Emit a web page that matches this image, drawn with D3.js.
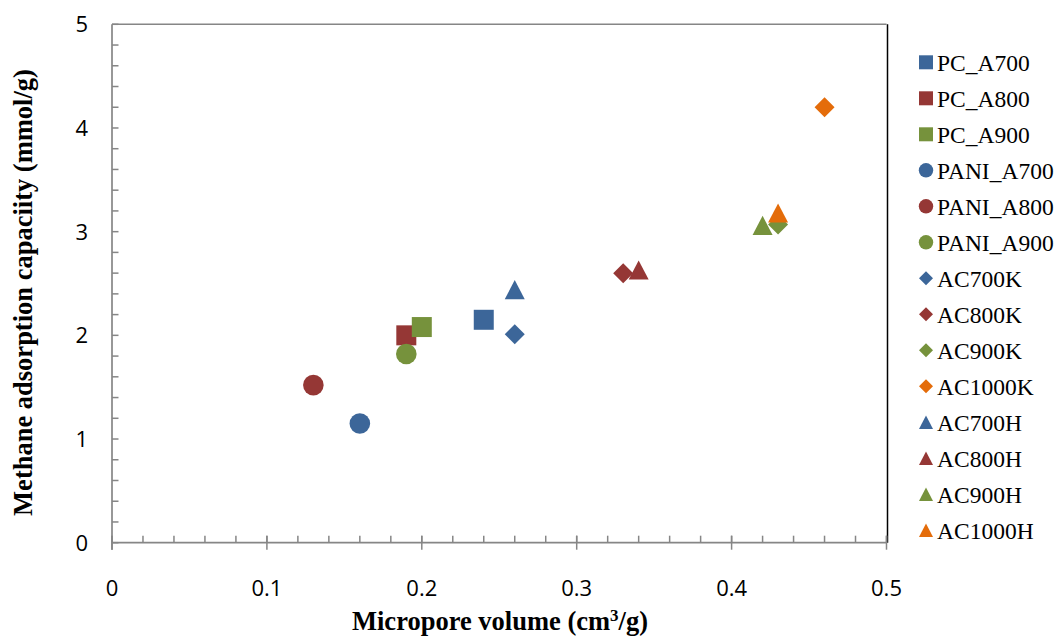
<!DOCTYPE html>
<html>
<head>
<meta charset="utf-8">
<script src="https://cdn.jsdelivr.net/npm/d3@7"></script>
<style>
  body { margin: 0; background: #fff; }
  .tick-label { font-family: "Open Sans", sans-serif; font-size: 22px; fill: #000; }
  .axis-title { font-family: "Liberation Serif", "Times New Roman", serif; font-weight: bold; font-size: 26.5px; fill: #000; }
  .legend-label { font-family: "Liberation Serif", "Times New Roman", serif; font-size: 23.5px; fill: #000; }
</style>
</head>
<body>
<div id="chart"></div>
<script>
// Series data
const seriesNames = ['PC_A700', 'PC_A800', 'PC_A900', 'PANI_A700', 'PANI_A800', 'PANI_A900',
  'AC700K', 'AC800K', 'AC900K', 'AC1000K', 'AC700H', 'AC800H', 'AC900H', 'AC1000H'];
const microporeVolume = [0.24, 0.19, 0.20, 0.16, 0.13, 0.19, 0.26, 0.33, 0.43, 0.46, 0.26, 0.34, 0.42, 0.43];
const methaneCapacity = [2.15, 2.00, 2.08, 1.15, 1.52, 1.82, 2.01, 2.60, 3.07, 4.20, 2.44, 2.63, 3.06, 3.18];
const seriesShape = ['square', 'square', 'square', 'circle', 'circle', 'circle',
  'diamond', 'diamond', 'diamond', 'diamond', 'triangle', 'triangle', 'triangle', 'triangle'];
const seriesColor = ['blue', 'red', 'green', 'blue', 'red', 'green',
  'blue', 'red', 'green', 'orange', 'blue', 'red', 'green', 'orange'];

const xTicks = [0, 0.1, 0.2, 0.3, 0.4, 0.5];
const yTicks = [0, 1, 2, 3, 4, 5];

const config = {
  width: 1059,
  height: 638,
  plot: {left: 112, right: 886.5, top: 24.3, bottom: 542.7},
  markerSize: 20,
  legendMarkerSize: 14,
  legend: {x: 926, y: 62.3, rowHeight: 36, textOffset: 11}
};

const colorScale = d3.scaleOrdinal()
    .domain(['blue', 'red', 'green', 'orange'])
    .range(['#3C6699', '#953735', '#76923C', '#E46C0A']);

const xScale = d3.scaleLinear()
    .domain([0, 0.5])
    .range([config.plot.left, config.plot.right]);

const yScale = d3.scaleLinear()
    .domain([0, 5])
    .range([config.plot.bottom, config.plot.top]);

// Marker path for a shape of a given width, centred on 0,0
function markerPath(shape, s) {
  const h = s / 2;
  if (shape === 'square') return `M${-h},${-h}h${s}v${s}h${-s}Z`;
  if (shape === 'circle') {
    const r = h * 1.03;
    return `M${-r},0a${r},${r} 0 1,0 ${2 * r},0a${r},${r} 0 1,0 ${-2 * r},0Z`;
  }
  if (shape === 'diamond') return `M0,${-h}L${h},0L0,${h}L${-h},0Z`;
  // triangle
  const th = s * 0.96 / 2;
  return `M0,${-th}L${h},${th}L${-h},${th}Z`;
}

const svg = d3.select('#chart').append('svg')
    .attr('width', config.width)
    .attr('height', config.height);

const axisColor = '#868686';

// Plot frame: top border grey, right border dark
svg.append('line')
    .attr('x1', config.plot.left).attr('x2', config.plot.right)
    .attr('y1', config.plot.top).attr('y2', config.plot.top)
    .attr('stroke', axisColor).attr('stroke-width', 1.5);
svg.append('line')
    .attr('x1', config.plot.right + 1).attr('x2', config.plot.right + 1)
    .attr('y1', config.plot.top).attr('y2', config.plot.bottom)
    .attr('stroke', '#000').attr('stroke-width', 1.5);

// Minor ticks (inside)
const xMinor = d3.range(0, 0.5001, 0.02);
const yMinor = d3.range(0, 5.001, 0.2);

svg.append('g').selectAll('line')
    .data(xMinor)
    .join('line')
    .attr('x1', d => xScale(d)).attr('x2', d => xScale(d))
    .attr('y1', config.plot.bottom).attr('y2', config.plot.bottom - 7)
    .attr('stroke', axisColor).attr('stroke-width', 1.5);

svg.append('g').selectAll('line')
    .data(yMinor)
    .join('line')
    .attr('x1', config.plot.left).attr('x2', config.plot.left + 6.5)
    .attr('y1', d => yScale(d)).attr('y2', d => yScale(d))
    .attr('stroke', axisColor).attr('stroke-width', 1.5);

// Major x ticks cross the axis
svg.append('g').selectAll('line')
    .data(xTicks)
    .join('line')
    .attr('x1', d => xScale(d)).attr('x2', d => xScale(d))
    .attr('y1', config.plot.bottom - 7).attr('y2', config.plot.bottom + 7)
    .attr('stroke', axisColor).attr('stroke-width', 1.5);

// Axis lines
svg.append('line')
    .attr('x1', config.plot.left).attr('x2', config.plot.right)
    .attr('y1', config.plot.bottom).attr('y2', config.plot.bottom)
    .attr('stroke', axisColor).attr('stroke-width', 1.7);
svg.append('line')
    .attr('x1', config.plot.left).attr('x2', config.plot.left)
    .attr('y1', config.plot.top).attr('y2', config.plot.bottom + 7)
    .attr('stroke', axisColor).attr('stroke-width', 1.7);

// Tick labels
svg.append('g').selectAll('text')
    .data(xTicks)
    .join('text')
    .attr('class', 'tick-label')
    .attr('x', d => xScale(d))
    .attr('y', 596)
    .attr('text-anchor', 'middle')
    .text(d => d === 0 ? '0' : d3.format('.1f')(d));

svg.append('g').selectAll('text')
    .data(yTicks)
    .join('text')
    .attr('class', 'tick-label')
    .attr('x', 88)
    .attr('y', d => yScale(d))
    .attr('dy', '0.36em')
    .attr('text-anchor', 'end')
    .text(d => d);

// Axis titles
const xTitle = svg.append('text')
    .attr('class', 'axis-title')
    .attr('x', 500)
    .attr('y', 630)
    .attr('text-anchor', 'middle');
xTitle.append('tspan').text('Micropore volume (cm');
xTitle.append('tspan').attr('baseline-shift', 'super').attr('font-size', '17px').text('3');
xTitle.append('tspan').text('/g)');

svg.append('text')
    .attr('class', 'axis-title')
    .attr('transform', 'translate(32,292.5) rotate(-90)')
    .attr('text-anchor', 'middle')
    .text('Methane adsorption capaciity (mmol/g)');

// Data markers
const points = seriesNames.map((name, i) => ({
  name: name,
  x: microporeVolume[i],
  y: methaneCapacity[i],
  shape: seriesShape[i],
  color: seriesColor[i]
}));

svg.append('g').selectAll('path')
    .data(points)
    .join('path')
    .attr('transform', d => `translate(${xScale(d.x)},${yScale(d.y)})`)
    .attr('d', d => markerPath(d.shape, config.markerSize))
    .attr('fill', d => colorScale(d.color));

// Legend
const legendG = svg.append('g').selectAll('g')
    .data(points)
    .join('g')
    .attr('transform', (d, i) => `translate(${config.legend.x},${config.legend.y + i * config.legend.rowHeight})`);

legendG.append('path')
    .attr('d', d => markerPath(d.shape, config.legendMarkerSize))
    .attr('fill', d => colorScale(d.color));

legendG.append('text')
    .attr('class', 'legend-label')
    .attr('x', config.legend.textOffset)
    .attr('dy', '0.37em')
    .text(d => d.name);
</script>
</body>
</html>
